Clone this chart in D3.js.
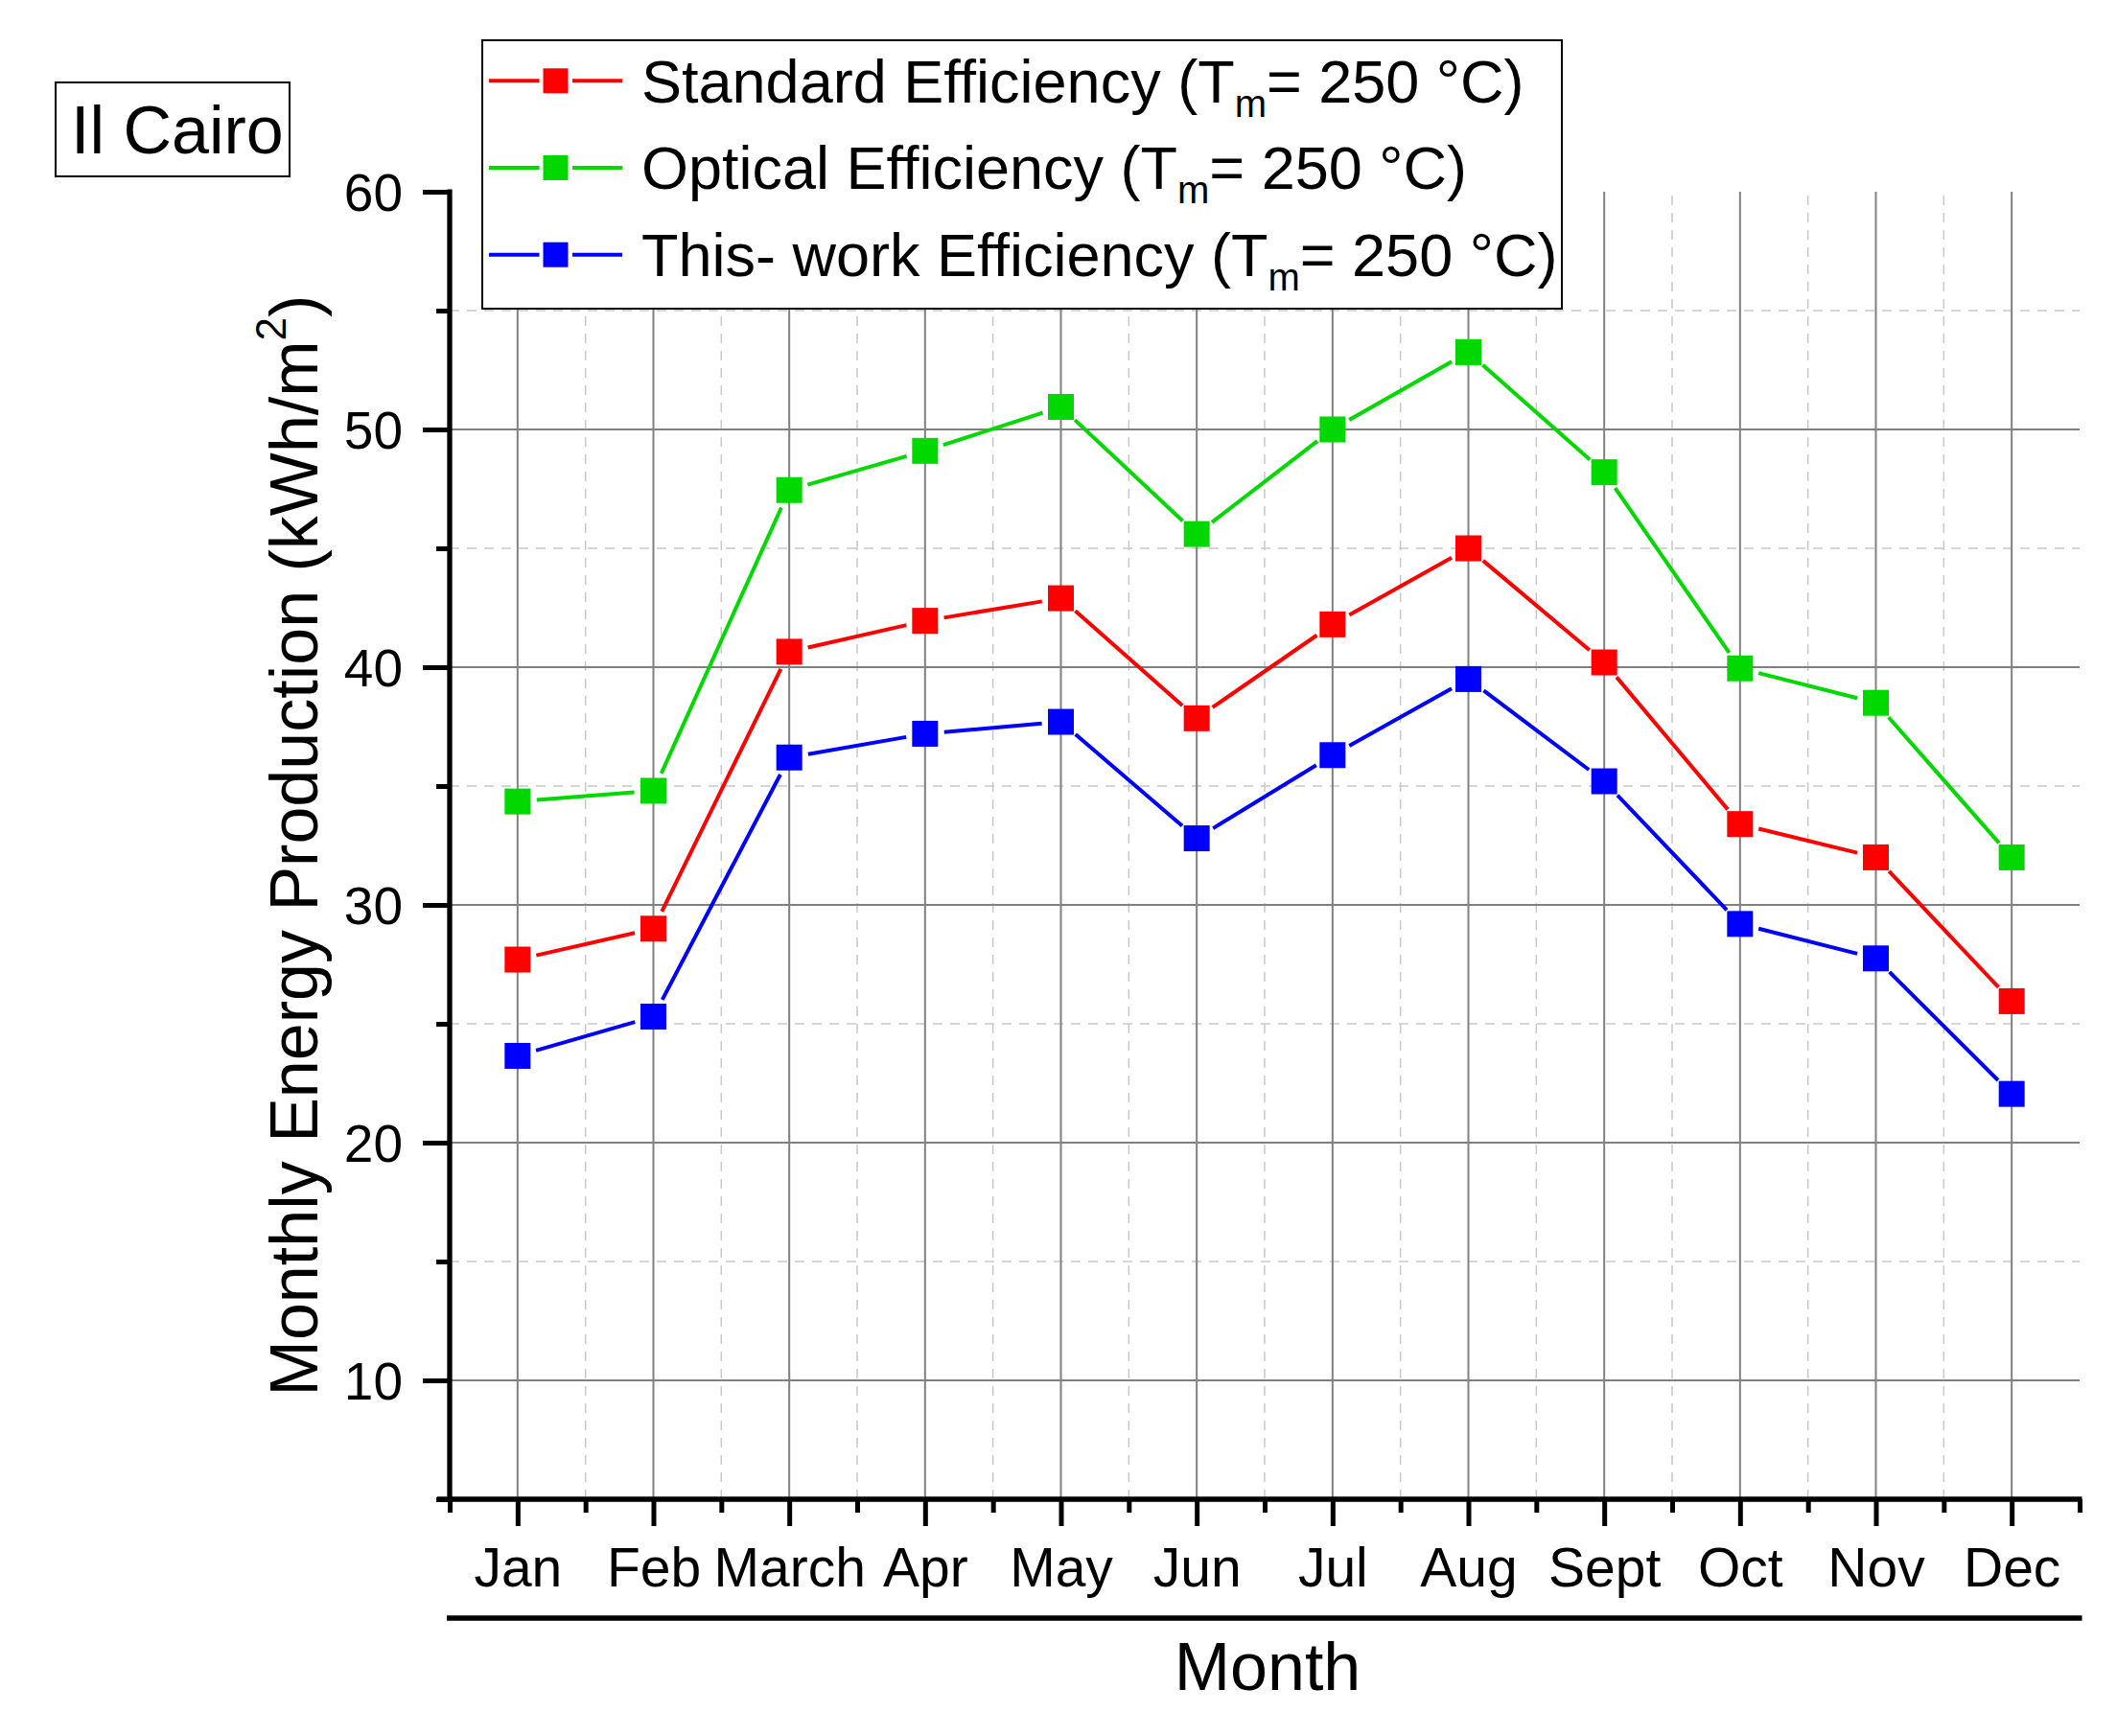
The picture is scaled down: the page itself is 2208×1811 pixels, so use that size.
<!DOCTYPE html>
<html>
<head>
<meta charset="utf-8">
<script src="https://cdn.jsdelivr.net/npm/d3@7"></script>
<style>
  body { margin: 0; background: #fff; }
  text { font-family: "Liberation Sans", Arial, sans-serif; fill: #000; }
</style>
</head>
<body>
<script>
// data
const months = ["Jan", "Feb", "March", "Apr", "May", "Jun", "Jul", "Aug", "Sept", "Oct", "Nov", "Dec"];
const standard = [27.7, 29.0, 40.65, 41.95, 42.9, 37.85, 41.8, 45.0, 40.2, 33.4, 32.0, 25.95];
const optical = [34.35, 34.8, 47.45, 49.1, 50.95, 45.6, 50.0, 53.25, 48.2, 39.95, 38.5, 32.0];
const thisWork = [23.65, 25.3, 36.2, 37.2, 37.7, 32.8, 36.3, 39.5, 35.2, 29.2, 27.75, 22.05];
const seriesNames = ["Standard Efficiency (T", "Optical Efficiency (T", "This- work Efficiency (T"];
const seriesColors = ["#ff0000", "#00d800", "#0000ff"];
const yMajor = [10, 20, 30, 40, 50, 60];
const yMinor = [5, 15, 25, 35, 45, 55];

const width = 2208, height = 1811;

const svg = d3.select("body").append("svg")
  .attr("width", width)
  .attr("height", height);

svg.append("rect").attr("width", width).attr("height", height).attr("fill", "#fff");

const x = d3.scaleLinear().domain([-0.5, 11.5]).range([469, 2169]);
const y = d3.scaleLinear().domain([5, 60]).range([1564, 200]);

const monthIdx = d3.range(months.length);
const halfIdx = d3.range(months.length + 1).map(i => i - 0.5);

// grid
const grid = svg.append("g");
grid.selectAll(".vminor")
  .data(halfIdx.slice(1, -1))
  .enter().append("line")
  .attr("x1", d => x(d)).attr("x2", d => x(d))
  .attr("y1", y(5)).attr("y2", y(60))
  .attr("stroke", "#c8c8c8").attr("stroke-width", 1.5)
  .attr("stroke-dasharray", "10,8");
grid.selectAll(".hminor")
  .data(yMinor.slice(1))
  .enter().append("line")
  .attr("x1", x(-0.5)).attr("x2", x(11.5))
  .attr("y1", d => y(d)).attr("y2", d => y(d))
  .attr("stroke", "#c8c8c8").attr("stroke-width", 1.5)
  .attr("stroke-dasharray", "10,8");
grid.selectAll(".vmajor")
  .data(monthIdx)
  .enter().append("line")
  .attr("x1", d => x(d)).attr("x2", d => x(d))
  .attr("y1", y(5)).attr("y2", y(60))
  .attr("stroke", "#808080").attr("stroke-width", 2);
grid.selectAll(".hmajor")
  .data(yMajor.slice(0, -1))
  .enter().append("line")
  .attr("x1", x(-0.5)).attr("x2", x(11.5))
  .attr("y1", d => y(d)).attr("y2", d => y(d))
  .attr("stroke", "#808080").attr("stroke-width", 2);

// series, lines broken near the markers
const allSeries = [standard, optical, thisWork];
const gap = 20;
allSeries.forEach((vals, s) => {
  const g = svg.append("g");
  const pts = vals.map((v, i) => [x(i), y(v)]);
  const segs = d3.pairs(pts).map(([a, b]) => {
    const dx = b[0] - a[0], dy = b[1] - a[1];
    const len = Math.hypot(dx, dy);
    const ux = dx / len, uy = dy / len;
    return [a[0] + ux * gap, a[1] + uy * gap, b[0] - ux * gap, b[1] - uy * gap];
  });
  g.selectAll("line").data(segs).enter().append("line")
    .attr("x1", d => d[0]).attr("y1", d => d[1])
    .attr("x2", d => d[2]).attr("y2", d => d[3])
    .attr("stroke", seriesColors[s]).attr("stroke-width", 4);
  g.selectAll("rect").data(vals).enter().append("rect")
    .attr("x", (d, i) => x(i) - 13.5).attr("y", d => y(d) - 13.5)
    .attr("width", 27).attr("height", 27)
    .attr("fill", seriesColors[s]);
});

// axes
const xAxis = svg.append("g").attr("transform", `translate(0,${y(5)})`)
  .call(d3.axisBottom(x).tickValues(monthIdx).tickFormat(i => months[i]).tickSize(28).tickSizeOuter(0));
xAxis.append("g")
  .call(d3.axisBottom(x).tickValues(halfIdx).tickFormat("").tickSize(14).tickSizeOuter(0));
xAxis.selectAll(".domain").remove();
xAxis.selectAll(".tick line").attr("stroke", "#000").attr("stroke-width", 5);
xAxis.selectAll(".tick text")
  .attr("y", 91).attr("dy", 0)
  .style("font-size", "57px")
  .style("font-family", "'Liberation Sans', Arial, sans-serif");

const yAxis = svg.append("g").attr("transform", `translate(${x(-0.5)},0)`)
  .call(d3.axisLeft(y).tickValues(yMajor).tickSize(28).tickSizeOuter(0));
yAxis.append("g")
  .call(d3.axisLeft(y).tickValues(yMinor).tickFormat("").tickSize(14).tickSizeOuter(0));
yAxis.selectAll(".domain").remove();
yAxis.selectAll(".tick line").attr("stroke", "#000").attr("stroke-width", 5);
yAxis.selectAll(".tick text")
  .attr("x", -49).attr("dy", "0.36em")
  .style("font-size", "55px")
  .style("font-family", "'Liberation Sans', Arial, sans-serif");

svg.append("line")
  .attr("x1", x(-0.5)).attr("x2", x(-0.5))
  .attr("y1", y(60) - 2.5).attr("y2", y(5) + 2.5)
  .attr("stroke", "#000").attr("stroke-width", 5.3);
svg.append("line")
  .attr("x1", x(-0.5) - 13).attr("x2", x(11.5) + 2.5)
  .attr("y1", y(5)).attr("y2", y(5))
  .attr("stroke", "#000").attr("stroke-width", 5.3);
// rule under the month labels
svg.append("line")
  .attr("x1", x(-0.5) - 3).attr("x2", x(11.5) + 2.5)
  .attr("y1", 1688).attr("y2", 1688)
  .attr("stroke", "#000").attr("stroke-width", 5.3);

// axis titles
svg.append("text")
  .attr("x", (x(-0.5) + x(11.5)) / 2 + 3).attr("y", 1763)
  .attr("text-anchor", "middle")
  .style("font-size", "70px")
  .text("Month");

const yTitle = svg.append("text")
  .attr("transform", `translate(331,${(y(5) + y(60)) / 2}) rotate(-90)`)
  .attr("text-anchor", "middle")
  .style("font-size", "70px");
yTitle.append("tspan").text("Monthly Energy Production (kWh/m");
yTitle.append("tspan").attr("dy", -33).style("font-size", "44px").text("2");
yTitle.append("tspan").attr("dy", 33).text(")");

// legend
const legend = svg.append("g");
legend.append("rect")
  .attr("x", 503).attr("y", 42).attr("width", 1126).attr("height", 280)
  .attr("fill", "#fff").attr("stroke", "#000").attr("stroke-width", 2);
seriesNames.forEach((name, s) => {
  const ly = 84.3 + s * 90.7;
  legend.append("line").attr("x1", 510).attr("x2", 562.5).attr("y1", ly).attr("y2", ly)
    .attr("stroke", seriesColors[s]).attr("stroke-width", 4);
  legend.append("line").attr("x1", 597).attr("x2", 649).attr("y1", ly).attr("y2", ly)
    .attr("stroke", seriesColors[s]).attr("stroke-width", 4);
  legend.append("rect").attr("x", 566.5).attr("y", ly - 13).attr("width", 26).attr("height", 26)
    .attr("fill", seriesColors[s]);
  const t = legend.append("text").attr("x", 669).attr("y", ly + 22.4).style("font-size", "63px");
  t.append("tspan").text(name);
  t.append("tspan").attr("dy", 15).style("font-size", "40px").text("m");
  t.append("tspan").attr("dy", -15).text("= 250 °C)");
});

// city label
svg.append("rect")
  .attr("x", 58).attr("y", 86).attr("width", 244).attr("height", 98)
  .attr("fill", "#fff").attr("stroke", "#000").attr("stroke-width", 2);
svg.append("text")
  .attr("x", 74).attr("y", 160)
  .style("font-size", "70px")
  .text("Il Cairo");
</script>
</body>
</html>
